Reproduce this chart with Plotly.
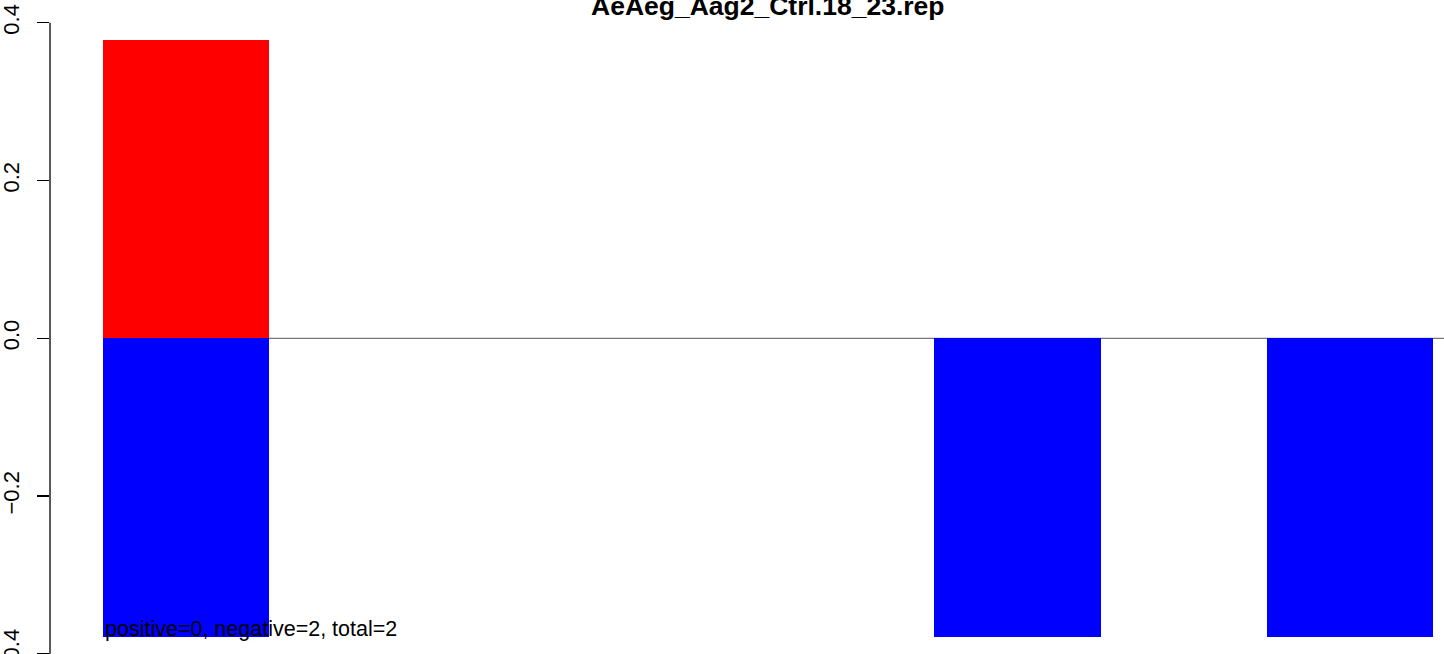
import plotly.graph_objects as go

# ---- data ----
positions = [0, 1, 2, 3, 4, 5, 6, 7]
positive_vals = [0.378, 0, 0, 0, 0, 0, 0, 0]
negative_vals = [-0.378, 0, 0, 0, 0, -0.378, 0, -0.378]
ytick_vals = [-0.4, -0.2, 0.0, 0.2, 0.4]
ytick_text = ["\u22120.4", "\u22120.2", "0.0", "0.2", "0.4"]
title_text = "AeAeg_Aag2_Ctrl.18_23.rep"
note_text = "positive=0, negative=2, total=2"

FONT = "Liberation Sans, Arial, Helvetica, sans-serif"

fig = go.Figure()
fig.add_trace(go.Bar(x=positions, y=positive_vals, marker=dict(color="#FF0000", line=dict(width=0)),
                     width=1, showlegend=False, hoverinfo="skip"))
fig.add_trace(go.Bar(x=positions, y=negative_vals, marker=dict(color="#0000FF", line=dict(width=0)),
                     width=1, showlegend=False, hoverinfo="skip"))

# zero reference line (under bars)
fig.add_shape(type="line", xref="x", yref="y", x0=-0.5, x1=8.3, y0=0, y1=0,
              line=dict(color="#555555", width=1), layer="below")
# y axis line spanning tick range
fig.add_shape(type="line", xref="paper", yref="y", x0=0, x1=0, y0=-0.4, y1=0.4,
              line=dict(color="black", width=1.3), layer="above")

fig.add_annotation(text="<b>" + title_text + "</b>", xref="x", yref="paper", x=3.5, y=1,
                   xanchor="center", yanchor="middle", yshift=-5.5, showarrow=False,
                   font=dict(family=FONT, size=26.5, color="black"))
fig.add_annotation(text=note_text, xref="x", yref="y", x=-0.5, y=-0.3686,
                   xanchor="left", yanchor="middle", showarrow=False,
                   font=dict(family=FONT, size=21.5, color="black"))

fig.update_layout(
    width=1444, height=654,
    margin=dict(l=50, r=0, t=0, b=0, pad=0),
    paper_bgcolor="white", plot_bgcolor="white",
    barmode="relative", bargap=0,
    font=dict(family=FONT, color="black"),
    xaxis=dict(range=[-0.8188, 7.566], visible=False, fixedrange=True),
    yaxis=dict(range=[-0.40013, 0.42877], tickmode="array", tickvals=ytick_vals, ticktext=ytick_text,
               tickangle=-90, ticks="outside", ticklen=12.5, tickwidth=1.3, tickcolor="black",
               tickfont=dict(family=FONT, size=22, color="black"), ticklabelstandoff=9,
               ticklabeloverflow="allow",
               showline=False, showgrid=False, zeroline=False, automargin=False, fixedrange=True),
)

fig.write_html("out.html", config={"displayModeBar": False, "staticPlot": True},
               post_script="document.body.style.margin='0';document.body.style.overflow='hidden';")
